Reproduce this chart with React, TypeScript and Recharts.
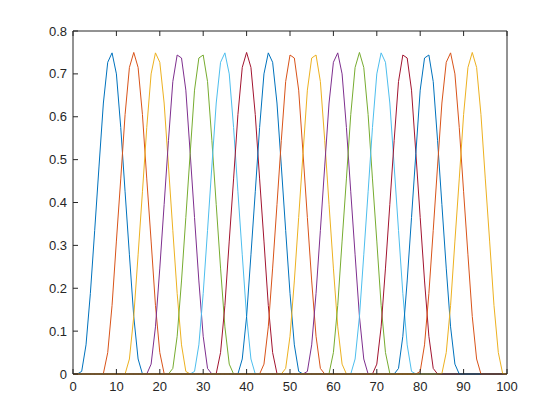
import { Line, LineChart, XAxis, YAxis } from "recharts";

// one bump per series, values at integer x starting at curveStarts[i]
const curve01 = [0.006, 0.068, 0.188, 0.335, 0.485, 0.632, 0.727, 0.749, 0.7, 0.575, 0.425, 0.278, 0.134, 0.035];
const curve02 = [0.001, 0.05, 0.16, 0.31, 0.455, 0.605, 0.715, 0.75, 0.715, 0.605, 0.455, 0.31, 0.16, 0.05, 0.001];
const curve03 = [0.035, 0.134, 0.278, 0.425, 0.575, 0.7, 0.749, 0.727, 0.632, 0.485, 0.335, 0.188, 0.068, 0.006];
const curve04 = [0.023, 0.11, 0.247, 0.395, 0.545, 0.682, 0.744, 0.737, 0.662, 0.515, 0.365, 0.217, 0.088, 0.013];
const curve05 = [0.013, 0.088, 0.217, 0.365, 0.515, 0.662, 0.737, 0.744, 0.682, 0.545, 0.395, 0.247, 0.11, 0.023];
const curve06 = [0.006, 0.068, 0.188, 0.335, 0.485, 0.632, 0.727, 0.749, 0.7, 0.575, 0.425, 0.278, 0.134, 0.035];
const curve07 = [0.001, 0.05, 0.16, 0.31, 0.455, 0.605, 0.715, 0.75, 0.715, 0.605, 0.455, 0.31, 0.16, 0.05, 0.001];
const curve08 = [0.035, 0.134, 0.278, 0.425, 0.575, 0.7, 0.749, 0.727, 0.632, 0.485, 0.335, 0.188, 0.068, 0.006];
const curve09 = [0.023, 0.11, 0.247, 0.395, 0.545, 0.682, 0.744, 0.737, 0.662, 0.515, 0.365, 0.217, 0.088, 0.013];
const curve10 = [0.013, 0.088, 0.217, 0.365, 0.515, 0.662, 0.737, 0.744, 0.682, 0.545, 0.395, 0.247, 0.11, 0.023];
const curve11 = [0.006, 0.068, 0.188, 0.335, 0.485, 0.632, 0.727, 0.749, 0.7, 0.575, 0.425, 0.278, 0.134, 0.035];
const curve12 = [0.001, 0.05, 0.16, 0.31, 0.455, 0.605, 0.715, 0.75, 0.715, 0.605, 0.455, 0.31, 0.16, 0.05, 0.001];
const curve13 = [0.035, 0.134, 0.278, 0.425, 0.575, 0.7, 0.749, 0.727, 0.632, 0.485, 0.335, 0.188, 0.068, 0.006];
const curve14 = [0.023, 0.11, 0.247, 0.395, 0.545, 0.682, 0.744, 0.737, 0.662, 0.515, 0.365, 0.217, 0.088, 0.013];
const curve15 = [0.013, 0.088, 0.217, 0.365, 0.515, 0.662, 0.737, 0.744, 0.682, 0.545, 0.395, 0.247, 0.11, 0.023];
const curve16 = [0.006, 0.068, 0.188, 0.335, 0.485, 0.632, 0.727, 0.749, 0.7, 0.575, 0.425, 0.278, 0.134, 0.035];
const curve17 = [0.001, 0.05, 0.16, 0.31, 0.455, 0.605, 0.715, 0.75, 0.715, 0.605, 0.455, 0.31, 0.16, 0.05, 0.001];

const curveStarts = [2, 7, 13, 18, 23, 28, 33, 39, 44, 49, 54, 59, 65, 70, 75, 80, 85];

const xTicks = [0, 10, 20, 30, 40, 50, 60, 70, 80, 90, 100];
const yTicks = [0, 0.1, 0.2, 0.3, 0.4, 0.5, 0.6, 0.7, 0.8];

const curves = [
  curve01, curve02, curve03, curve04, curve05, curve06, curve07, curve08, curve09,
  curve10, curve11, curve12, curve13, curve14, curve15, curve16, curve17,
];

// matlab default color order
const palette = ["#0072BD", "#D95319", "#EDB120", "#7E2F8E", "#77AC30", "#4DBEEE", "#A2142F"];

// every series runs over x = 0..100, zero outside its bump
const data = Array.from({ length: 101 }, (_, x) => {
  const row: Record<string, number> = { x };
  curves.forEach((vals, i) => {
    const j = x - curveStarts[i];
    row[`s${i}`] = j >= 0 && j < vals.length ? vals[j] : 0;
  });
  return row;
});

const AXIS = "#262626";
const FONT = "'Liberation Sans', Arial, Helvetica, sans-serif";

function BottomTick({ x, y, payload }: any) {
  return (
    <g>
      <line x1={x} y1={y} x2={x} y2={y - 5} stroke={AXIS} strokeWidth={1} />
      <text x={x} y={y + 17} textAnchor="middle" fontSize={13} fontFamily={FONT} fill={AXIS}>
        {payload.value}
      </text>
    </g>
  );
}

function LeftTick({ x, y, payload }: any) {
  return (
    <g>
      <line x1={x} y1={y} x2={x + 5} y2={y} stroke={AXIS} strokeWidth={1} />
      <text x={x - 6} y={y + 4.5} textAnchor="end" fontSize={13} fontFamily={FONT} fill={AXIS}>
        {String(payload.value)}
      </text>
    </g>
  );
}

function TopTick({ x, y }: any) {
  return <line x1={x} y1={y} x2={x} y2={y + 5} stroke={AXIS} strokeWidth={1} />;
}

function RightTick({ x, y }: any) {
  return <line x1={x} y1={y} x2={x - 5} y2={y} stroke={AXIS} strokeWidth={1} />;
}

export default function App() {
  return (
    <div style={{ position: "absolute", left: 0, top: 0, width: 560, height: 420, background: "#fff" }}>
      <LineChart width={560} height={420} data={data} margin={{ top: 0, right: 0, left: 0, bottom: 0 }}>
        <XAxis
          dataKey="x"
          type="number"
          domain={[0, 100]}
          ticks={xTicks}
          height={46}
          tickSize={0}
          tickMargin={0}
          tickLine={false}
          tick={<BottomTick />}
          axisLine={{ stroke: AXIS }}
        />
        <XAxis
          xAxisId="top"
          orientation="top"
          type="number"
          domain={[0, 100]}
          ticks={xTicks}
          height={31}
          tickSize={0}
          tickMargin={0}
          tickLine={false}
          tick={<TopTick />}
          axisLine={{ stroke: AXIS }}
        />
        <YAxis
          type="number"
          domain={[0, 0.8]}
          ticks={yTicks}
          width={73}
          tickSize={0}
          tickMargin={0}
          tickLine={false}
          tick={<LeftTick />}
          axisLine={{ stroke: AXIS }}
        />
        <YAxis
          yAxisId="right"
          orientation="right"
          type="number"
          domain={[0, 0.8]}
          ticks={yTicks}
          width={53}
          tickSize={0}
          tickMargin={0}
          tickLine={false}
          tick={<RightTick />}
          axisLine={{ stroke: AXIS }}
        />
        {curves.map((_, i) => (
          <Line
            key={i}
            type="linear"
            dataKey={`s${i}`}
            stroke={palette[i % palette.length]}
            strokeWidth={1}
            dot={false}
            activeDot={false}
            isAnimationActive={false}
          />
        ))}
      </LineChart>
    </div>
  );
}
